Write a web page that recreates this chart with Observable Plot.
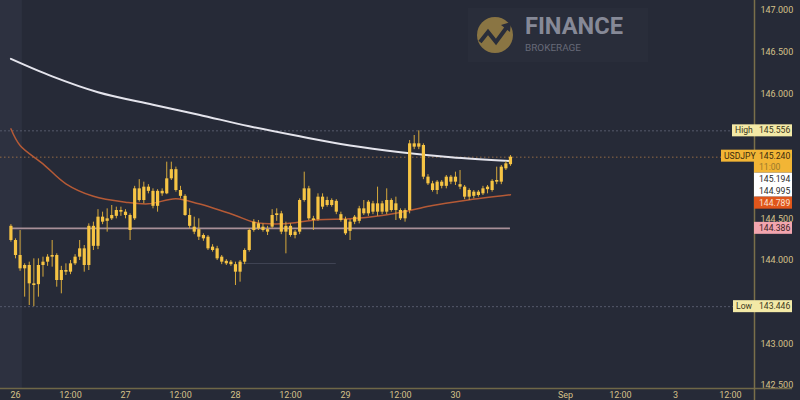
<!DOCTYPE html>
<html><head><meta charset="utf-8">
<script src="https://cdn.jsdelivr.net/npm/d3@7"></script>
<script src="https://cdn.jsdelivr.net/npm/@observablehq/plot@0.6"></script>
<style>
html,body{margin:0;padding:0;background:#262a37;}
#chart{width:800px;height:400px;position:relative;overflow:hidden;}
</style></head><body><div id="chart"></div>
<script>
// USDJPY hourly candles, trading hours from Aug 26 00:00 (weekend removed)
const firstHour = -1;
const opens = [144.41,144.24,144.06,143.90,143.94,143.72,143.71,143.94,143.98,144.04,
144.06,143.76,143.88,143.86,143.96,144.04,144.14,143.94,144.41,144.17,
144.52,144.47,144.50,144.53,144.60,144.58,144.54,144.50,144.86,144.72,
144.88,144.83,144.65,144.83,144.80,144.98,145.09,144.84,144.77,144.54,
144.40,144.37,144.30,144.28,144.16,144.14,144.04,143.99,143.98,143.95,
143.86,143.98,144.12,144.36,144.44,144.40,144.37,144.40,144.54,144.56,
144.34,144.41,144.30,144.34,144.72,144.86,144.50,144.49,144.76,144.66,
144.72,144.71,144.55,144.49,144.35,144.46,144.47,144.62,144.56,144.68,
144.58,144.68,144.58,144.72,144.60,144.60,144.50,144.60,145.40,145.36,
145.38,145.00,144.92,144.84,144.94,144.89,145.00,144.94,144.91,144.88,
144.76,144.82,144.78,144.80,144.85,144.84,144.94,144.94,145.10,145.15];
const highs = [144.43,144.26,144.36,143.96,143.98,144.02,144.02,144.04,144.07,144.24,
144.08,143.93,143.96,144.00,144.07,144.24,144.18,144.44,144.46,144.61,
144.58,144.62,144.66,144.64,144.64,144.61,144.56,144.89,144.97,144.94,
144.91,144.86,144.85,144.86,145.18,145.18,145.12,144.89,144.79,144.62,
144.52,144.50,144.32,144.30,144.19,144.17,144.06,144.01,144.00,143.98,
144.00,144.14,144.38,144.49,144.48,144.44,144.41,144.61,144.62,144.59,
144.46,144.44,144.36,144.74,145.06,144.89,144.53,144.80,144.80,144.76,
144.74,144.73,144.58,144.52,144.49,144.54,144.65,144.72,144.72,144.71,
144.88,144.71,144.86,144.74,144.76,144.62,144.62,145.44,145.50,145.556,
145.40,145.03,144.95,144.96,144.96,145.02,145.02,145.06,145.08,144.90,
144.86,144.84,144.84,144.89,144.90,144.97,145.12,145.14,145.19,145.26];
const lows = [144.22,144.02,143.87,143.56,143.46,143.446,143.56,143.80,143.93,143.92,
143.68,143.60,143.82,143.83,143.94,144.00,143.86,143.88,144.12,144.13,
144.43,144.34,144.48,144.50,144.53,144.50,144.24,144.48,144.70,144.68,
144.80,144.62,144.58,144.77,144.79,144.96,144.82,144.74,144.53,144.38,
144.31,144.24,144.23,144.12,144.10,144.00,143.95,143.94,143.93,143.70,
143.74,143.95,144.10,144.34,144.36,144.34,144.30,144.38,144.47,144.31,
144.08,144.28,144.26,144.31,144.70,144.48,144.36,144.47,144.61,144.64,
144.64,144.55,144.46,144.30,144.24,144.43,144.44,144.54,144.53,144.55,
144.53,144.55,144.55,144.58,144.48,144.48,144.46,144.56,145.33,145.33,
144.97,144.90,144.82,144.79,144.86,144.86,144.91,144.90,144.85,144.73,
144.72,144.74,144.76,144.78,144.80,144.82,144.91,144.91,145.08,145.13];
const closes = [144.24,144.06,143.90,143.94,143.72,143.70,143.94,143.98,144.04,144.06,
143.76,143.88,143.86,143.96,144.04,144.14,143.94,144.41,144.17,144.52,
144.46,144.50,144.54,144.60,144.58,144.54,144.36,144.86,144.72,144.88,
144.83,144.65,144.83,144.80,144.98,145.09,144.84,144.77,144.54,144.41,
144.34,144.28,144.26,144.14,144.12,144.02,143.98,143.96,143.95,143.86,
143.98,144.12,144.36,144.46,144.38,144.36,144.34,144.54,144.56,144.34,
144.41,144.30,144.34,144.72,144.86,144.50,144.48,144.76,144.64,144.72,
144.66,144.58,144.48,144.32,144.46,144.52,144.62,144.56,144.70,144.58,
144.68,144.58,144.72,144.60,144.68,144.50,144.60,145.40,145.36,145.40,
145.00,144.92,144.84,144.94,144.89,145.00,144.94,145.00,144.88,144.76,
144.84,144.77,144.82,144.86,144.88,144.95,144.96,145.12,145.16,145.24];

// moving averages read at a few points
const whiteMaHours  = [-1, 8, 18, 30, 40, 51, 62, 73, 84, 95, 108];
const whiteMaValues = [146.42,146.21,146.02,145.87,145.75,145.61,145.49,145.38,145.30,145.24,145.194];
const orangeMaHours  = [-1, 1, 6, 11, 17, 24, 29, 35, 40, 48, 52, 58, 66, 73, 80, 86, 91, 98, 108];
const orangeMaValues = [145.58,145.38,145.16,144.92,144.77,144.70,144.68,144.74,144.68,144.54,144.46,144.44,144.49,144.50,144.54,144.60,144.66,144.72,144.789];

const tickHours  = [0, 12, 24, 36, 48, 60, 72, 84, 96, 120, 132, 144, 156];
const tickLabels = ["26","12:00","27","12:00","28","12:00","29","12:00","30","Sep","12:00","3","12:00"];
// price ticks that are not covered by the price labels
const yTicks = [142.5,143,144,144.5,146,146.5,147];

const symbol = "USDJPY";
const highPrice = 145.556, lowPrice = 143.446, lastPrice = 145.240, supportPrice = 144.386;
const faintLevel = 143.964, faintFrom = 49, faintTo = 70;
const countdown = "11:00";
const stackedLabels = ["145.194", "144.995", "144.789"];

const candles = opens.map((o, i) => ({t: firstHour + i, o, h: highs[i], l: lows[i], c: closes[i]}));
const lastHour = firstHour + opens.length - 1;
const whiteMa = whiteMaHours.map((t, i) => ({t, v: whiteMaValues[i]}));
const orangeMa = orangeMaHours.map((t, i) => ({t, v: orangeMaValues[i]}));

const AX = "#d5c18a";
const F = "Roboto, 'Open Sans', sans-serif";
const chart = Plot.plot({
  width: 800, height: 400,
  marginLeft: 0, marginRight: 46, marginTop: 0, marginBottom: 12,
  style: {background: "transparent", fontFamily: F, fontSize: "9px"},
  x: {domain: [-3.273, 161.25], label: null},
  y: {domain: [142.464, 147.12], label: null},
  marks: [
    Plot.ruleY([highPrice, lowPrice], {stroke: "#555a6b", strokeDasharray: "2,2"}),
    Plot.ruleY([lastPrice], {stroke: "#b07a48", strokeOpacity: 0.8, strokeDasharray: "1.5,2.5"}),
    Plot.ruleY([supportPrice], {x1: firstHour, x2: lastHour, stroke: "#a88f98", strokeWidth: 1.6}),
    Plot.ruleY([faintLevel], {x1: faintFrom, x2: faintTo, stroke: "#3f4353"}),
    Plot.line(whiteMa, {x: "t", y: "v", curve: "catmull-rom", stroke: "#e4e4ec", strokeWidth: 2}),
    Plot.line(orangeMa, {x: "t", y: "v", curve: "catmull-rom", stroke: "#b55a36", strokeWidth: 1.5}),
    Plot.ruleX(candles, {x: "t", y1: "l", y2: "h", stroke: "#d6a93c", strokeWidth: 1}),
    Plot.ruleX(candles, {x: "t", y1: "o", y2: "c", stroke: "#f6c444", strokeWidth: 3.2}),
    Plot.axisY(yTicks, {anchor: "right", label: null, tickSize: 0, tickPadding: 6, tickFormat: d => d.toFixed(3), color: AX}),
    Plot.axisX(tickHours, {anchor: "bottom", label: null, tickSize: 0, tickPadding: 3, tickFormat: d => tickLabels[tickHours.indexOf(d)], color: AX})
  ]
});
document.getElementById("chart").appendChild(chart);

const svg = d3.select(chart);
const ys = chart.scale("y");
const xs = chart.scale("x");
const xRight = xs.apply(161.25);
const yBottom = ys.apply(142.464);

// left session shading and watermark behind everything
const bg = svg.insert("g", ":first-child").attr("text-anchor", "start");
bg.append("rect").attr("x", 0).attr("y", 0).attr("width", xs.apply(1.5)).attr("height", yBottom).attr("fill", "#2d3140");
const wm = bg.append("g");
wm.append("rect").attr("x", 468).attr("y", 8).attr("width", 180).attr("height", 54).attr("fill", "#292d3a");
wm.append("circle").attr("cx", 495).attr("cy", 35).attr("r", 18).attr("fill", "#8a7543");
wm.append("polyline").attr("points", "480,42 488,32 496,42 507,27").attr("fill", "none").attr("stroke", "#292d3a").attr("stroke-width", 4);
wm.append("polygon").attr("points", "501,25 511,22 510,32").attr("fill", "#292d3a");
wm.append("text").attr("x", 525).attr("y", 34).attr("text-anchor", "start").attr("font-family", F).attr("font-weight", 700)
  .attr("font-size", 23).attr("fill", "#868997").attr("textLength", 98).attr("lengthAdjust", "spacingAndGlyphs").text("FINANCE");
wm.append("text").attr("x", 525).attr("y", 51).attr("text-anchor", "start").attr("font-family", F)
  .attr("font-size", 9).attr("fill", "#676a78").attr("textLength", 56).attr("lengthAdjust", "spacingAndGlyphs").text("BROKERAGE");

// borders
const fg = svg.append("g").attr("text-anchor", "start");
fg.append("line").attr("x1", 0).attr("x2", 792).attr("y1", yBottom + 0.5).attr("y2", yBottom + 0.5).attr("stroke", "#6f6747").attr("stroke-width", 1.5);
fg.append("line").attr("x1", xRight + 0.5).attr("x2", xRight + 0.5).attr("y1", 0).attr("y2", 400).attr("stroke", "#7a6f4a").attr("stroke-width", 1.5);

function box(x, y, w, h, fill) {
  fg.append("rect").attr("x", x).attr("y", y).attr("width", w).attr("height", h).attr("fill", fill);
}
function label(x, y, txt, fill) {
  fg.append("text").attr("x", x).attr("y", y).attr("dy", "0.35em").attr("font-family", F).attr("font-size", 8.6)
    .attr("fill", fill).attr("text-anchor", "start").text(txt);
}
const vx = xRight + 5;
const bw = 38;
// High
const yH = ys.apply(highPrice);
box(732, yH - 6, xRight - 732 + bw, 12, "#f3e9a6");
label(735, yH, "High", "#3b3620");
label(vx, yH, highPrice.toFixed(3), "#3b3620");
// Low
const yL = ys.apply(lowPrice);
box(733, yL - 6, xRight - 733 + bw, 12, "#f3e9a6");
label(736, yL, "Low", "#3b3620");
label(vx, yL, lowPrice.toFixed(3), "#3b3620");
// last price
const yP = ys.apply(lastPrice);
box(721, yP - 7, xRight - 721, 12, "#f2b535");
box(xRight, yP - 7, bw, 23, "#f2b535");
label(724, yP - 1, symbol, "#3a2a0e");
label(vx, yP - 1, lastPrice.toFixed(3), "#3a2a0e");
label(vx, yP + 10, countdown, "#9a7a2c");
// stacked indicator values
let yy = yP + 16;
box(xRight, yy, bw, 24, "#ffffff");
label(vx, yy + 6, stackedLabels[0], "#2a2a2a");
label(vx, yy + 18, stackedLabels[1], "#2a2a2a");
yy += 24;
box(xRight, yy, bw, 12, "#e0561b");
label(vx, yy + 6, stackedLabels[2], "#fbe0cf");
// support level
const yS = ys.apply(supportPrice);
box(xRight, yS - 6, bw, 12, "#f2a5ae");
label(vx, yS, supportPrice.toFixed(3), "#3a2224");
</script></body></html>
